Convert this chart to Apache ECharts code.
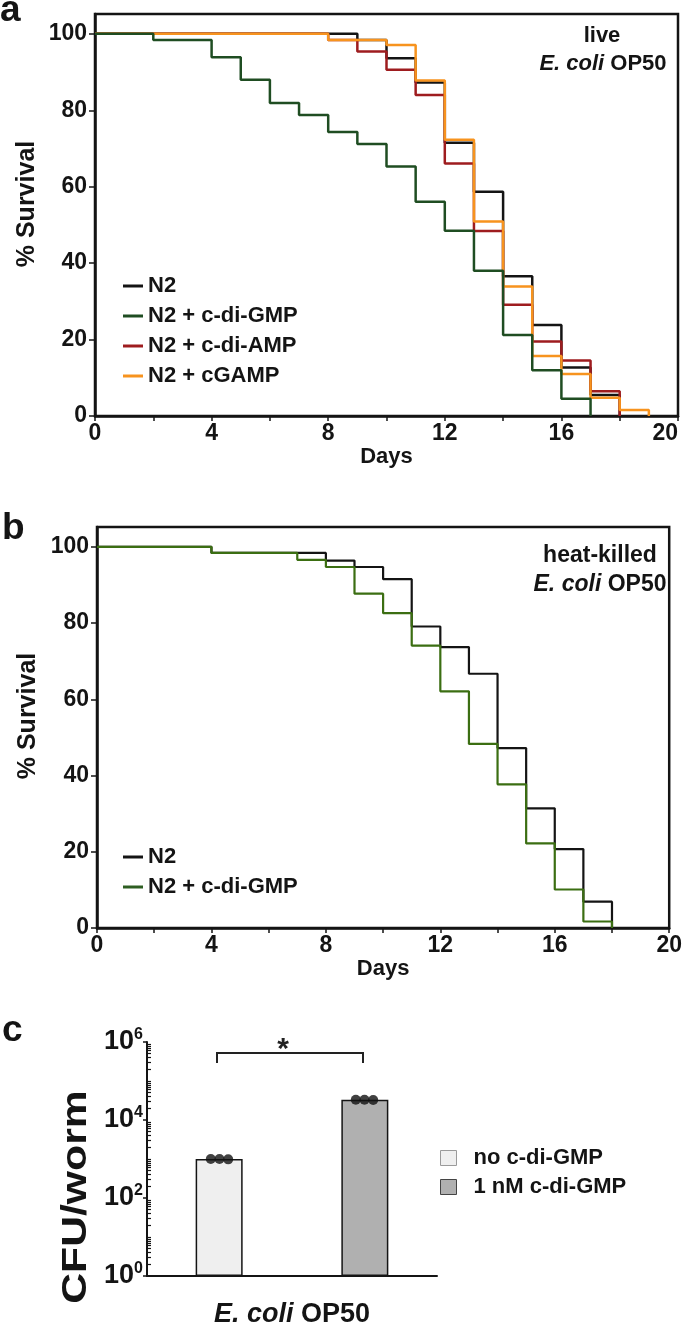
<!DOCTYPE html>
<html><head><meta charset="utf-8">
<script src="https://cdn.jsdelivr.net/npm/echarts@6/dist/echarts.min.js"></script>
<style>html,body{margin:0;padding:0;background:#fff}#c{width:685px;height:1328px}</style>
</head><body><div id="c"></div>
<script>
// ---------- Panel a : live E. coli OP50 (day, % survival) ----------
const aN2      = [[0,100],[9,98.4],[10,93.6],[11,87.3],[12,71.5],[13,58.7],[14,36.6],[15,23.8],[16,12.7],[17,5.5],[18,0]];
const aCdiGMP  = [[0,100],[2,98.4],[4,93.9],[5,88.0],[6,81.9],[7,78.8],[8,74.3],[9,71.2],[10,65.3],[11,56.1],[12,48.5],[13,38.0],[14,21.2],[15,12.0],[16,4.5],[17,0]];
const aCdiAMP  = [[0,100],[8,98.4],[9,95.4],[10,90.6],[11,84.0],[12,66.1],[13,48.4],[14,29.1],[15,19.5],[16,14.5],[17,6.5],[18,0]];
const aCGAMP   = [[0,100],[8,98.4],[10,97.1],[11,87.8],[12,72.3],[13,50.9],[14,33.9],[15,15.7],[16,11.0],[17,4.8],[18,1.6],[19,0]];
// ---------- Panel b : heat-killed E. coli OP50 ----------
const bN2      = [[0,100],[4,98.4],[8,96.4],[9,94.7],[10,91.5],[11,79.1],[12,73.7],[13,66.7],[14,47.2],[15,31.4],[16,20.7],[17,6.9],[18,0]];
const bCdiGMP  = [[0,100],[4,98.4],[7,96.6],[8,94.7],[9,87.7],[10,82.6],[11,74.1],[12,62.1],[13,48.3],[14,37.7],[15,22.2],[16,10.1],[17,1.7],[18,0]];
// ---------- Panel c : CFU per worm ----------
const cCategory   = ['E. coli OP50'];
const cfuNo       = [1000];
const cfu1nM      = [33000];
const dotsNo      = [[0.44,1000],[0.50,1000],[0.56,980]];
const dots1nM     = [[1.44,33000],[1.50,33000],[1.56,32500]];
// ---------- ticks ----------
const dayTicks    = [0,2,4,6,8,10,12,14,16,18,20];
const dayLabels   = [0,4,8,12,16,20];
const survTicks   = [0,20,40,60,80,100];
const cfuMajor    = [1,100,10000,1000000];
const cfuMinor    = [2,3,4,5,6,7,8,9,10,20,30,40,50,60,70,80,90,200,300,400,500,600,700,800,900,1000,2000,3000,4000,5000,6000,7000,8000,9000,20000,30000,40000,50000,60000,70000,80000,90000,100000,200000,300000,400000,500000,600000,700000,800000,900000];

const F = '"Liberation Sans", Arial, Helvetica, sans-serif';
const K = '#141414';
const txt = (s, w) => ({fontSize: s, fontWeight: w || 'bold', color: K, fontFamily: F});

function survX(gi) {
  return {gridIndex: gi, type: 'value', min: 0, max: 20,
    axisLine: {show: true, onZero: false, lineStyle: {color: K, width: 2.5}},
    axisTick: {show: true, customValues: dayTicks, length: 5, lineStyle: {color: K, width: 1.5}},
    axisLabel: Object.assign({customValues: dayLabels, margin: 6, alignMaxLabel: gi === 0 ? 'right' : null}, txt(23)),
    splitLine: {show: false},
    name: 'Days', nameLocation: 'middle', nameGap: 27, nameTextStyle: txt(22)};
}
function survY(gi) {
  return {gridIndex: gi, type: 'value', min: 0, max: 105.2,
    axisLine: {show: true, onZero: false, lineStyle: {color: K, width: 2.5}},
    axisTick: {show: true, customValues: survTicks, length: 6, lineStyle: {color: K, width: 1.5}},
    axisLabel: Object.assign({customValues: survTicks, margin: 8,
      formatter: v => (Math.abs(v % 20) < 1e-6 ? String(v) : '')}, txt(23)),
    splitLine: {show: false}};
}
function line(name, data, color, xi, z, w) {
  return {name, type: 'line', xAxisIndex: xi, yAxisIndex: xi, data, step: 'end',
    showSymbol: false, symbol: 'none', z, clip: false,
    lineStyle: {color, width: w}, itemStyle: {color}, emphasis: {disabled: true}};
}
const GA = '#1f4d22', RA = '#9e1c1f', OA = '#f7931e', GB = '#3b6e12';

const chart = echarts.init(document.getElementById('c'), null, {renderer: 'canvas'});
chart.setOption({
  animation: false,
  backgroundColor: '#fff',
  grid: [
    {left: 95, right: 7, top: 14, bottom: 912, show: true, borderColor: K, borderWidth: 2.5},
    {left: 97, right: 13, top: 527, bottom: 400, show: true, borderColor: K, borderWidth: 2.5},
    {left: 147, right: 248, top: 1042, bottom: 42, show: false}
  ],
  xAxis: [
    survX(0), survX(1),
    {gridIndex: 2, type: 'category', data: cCategory,
      axisLine: {show: true, lineStyle: {color: K, width: 2}}, axisTick: {show: false},
      axisLabel: {margin: 25, fontSize: 27, fontWeight: 'bold', color: K, fontFamily: F,
        formatter: v => '{i|E. coli} OP50',
        rich: {i: {fontSize: 27, fontWeight: 'bold', fontStyle: 'italic', color: K, fontFamily: F}}}},
    {gridIndex: 2, type: 'value', min: 0, max: 2, show: false}
  ],
  yAxis: [
    survY(0), survY(1),
    {gridIndex: 2, type: 'log', logBase: 10, min: 1, max: 1000000, splitNumber: 3, position: 'left',
      axisLine: {show: true, lineStyle: {color: K, width: 2}},
      axisTick: {show: true, customValues: cfuMajor, length: 4, lineStyle: {color: K, width: 1.5}},
      axisLabel: {customValues: cfuMajor, margin: 4, color: K, fontFamily: F, fontSize: 27, fontWeight: 'bold',
        formatter: v => '{b|10}{s|' + Math.round(Math.log10(v)) + '}',
        rich: {b: {fontSize: 27, fontWeight: 'bold', color: K, fontFamily: F, lineHeight: 30},
               s: {fontSize: 16, fontWeight: 'bold', color: K, fontFamily: F, lineHeight: 30, verticalAlign: 'top'}}},
      splitLine: {show: false}, minorTick: {show: false}},
    {gridIndex: 2, type: 'log', logBase: 10, min: 1, max: 1000000, splitNumber: 3, position: 'left', offset: 0,
      axisLine: {show: false}, axisLabel: {show: false}, splitLine: {show: false},
      axisTick: {show: true, inside: true, customValues: cfuMinor, length: 4, lineStyle: {color: K, width: 1.2}}}
  ],
  legend: [
    {orient: 'vertical', left: 118, top: 270, icon: 'rect', itemWidth: 20, itemHeight: 3, itemGap: 8,
      selectedMode: false, textStyle: Object.assign({lineHeight: 22}, txt(22)),
      data: [{name: 'N2', itemStyle: {color: K, borderWidth: 0}},
             {name: 'N2 + c-di-GMP', itemStyle: {color: GA, borderWidth: 0}},
             {name: 'N2 + c-di-AMP', itemStyle: {color: RA, borderWidth: 0}},
             {name: 'N2 + cGAMP', itemStyle: {color: OA, borderWidth: 0}}]},
    {orient: 'vertical', left: 118, top: 841, icon: 'rect', itemWidth: 20, itemHeight: 3, itemGap: 8,
      selectedMode: false, textStyle: Object.assign({lineHeight: 22}, txt(22)),
      data: [{name: 'N2', itemStyle: {color: K, borderWidth: 0}},
             {name: 'N2 + c-di-GMP', itemStyle: {color: '#2e5e22', borderWidth: 0}}]},
    {orient: 'vertical', left: 435, top: 1142, icon: 'rect', itemWidth: 16, itemHeight: 15, itemGap: 7,
      selectedMode: false, textStyle: Object.assign({lineHeight: 22, padding: [0, 0, 0, 12]}, txt(22)),
      data: [{name: 'no c-di-GMP', itemStyle: {color: '#efefef', borderColor: '#9a9a9a', borderWidth: 1}},
             {name: '1 nM c-di-GMP', itemStyle: {color: '#b0b0b0', borderColor: '#444', borderWidth: 1}}]}
  ],
  series: [
    line('N2', aN2, K, 0, 2, 2.5),
    line('N2 + c-di-GMP', aCdiGMP, GA, 0, 6, 2.5),
    line('N2 + c-di-AMP', aCdiAMP, RA, 0, 3, 2.5),
    line('N2 + cGAMP', aCGAMP, OA, 0, 4, 2.5),
    line('N2', bN2, K, 1, 2, 2.2),
    line('N2 + c-di-GMP', bCdiGMP, GB, 1, 4, 2.2),
    {name: 'no c-di-GMP', type: 'bar', xAxisIndex: 2, yAxisIndex: 2, data: cfuNo,
      barWidth: 47, barGap: '210%', itemStyle: {color: '#efefef', borderColor: K, borderWidth: 1.5}},
    {name: '1 nM c-di-GMP', type: 'bar', xAxisIndex: 2, yAxisIndex: 2, data: cfu1nM,
      barWidth: 47, barGap: '210%', itemStyle: {color: '#b0b0b0', borderColor: K, borderWidth: 1.5}},
    {name: 'replicates no c-di-GMP', type: 'scatter', xAxisIndex: 3, yAxisIndex: 2, data: dotsNo,
      symbolSize: 10, itemStyle: {color: '#111'}, z: 5},
    {name: 'replicates 1 nM c-di-GMP', type: 'scatter', xAxisIndex: 3, yAxisIndex: 2, data: dots1nM,
      symbolSize: 10, itemStyle: {color: '#111'}, z: 5}
  ],
  graphic: [
    {type: 'text', x: 0, y: 11, style: {text: 'a', font: 'bold 37px ' + F, fill: K, textVerticalAlign: 'middle'}},
    {type: 'text', x: 2, y: 529, style: {text: 'b', font: 'bold 37px ' + F, fill: K, textVerticalAlign: 'middle'}},
    {type: 'text', x: 2, y: 1031, style: {text: 'c', font: 'bold 37px ' + F, fill: K, textVerticalAlign: 'middle'}},
    {type: 'text', x: 602, y: 36, style: {text: 'live', font: 'bold 22px ' + F, fill: K, textAlign: 'center', textVerticalAlign: 'middle'}},
    {type: 'text', x: 603, y: 64, style: {text: '{i|E. coli} OP50', font: 'bold 22px ' + F, fill: K, textAlign: 'center', textVerticalAlign: 'middle',
      rich: {i: {font: 'italic bold 22px ' + F, fill: K}}}},
    {type: 'text', x: 600, y: 556, style: {text: 'heat-killed', font: 'bold 23px ' + F, fill: K, textAlign: 'center', textVerticalAlign: 'middle'}},
    {type: 'text', x: 600, y: 585, style: {text: '{i|E. coli} OP50', font: 'bold 23px ' + F, fill: K, textAlign: 'center', textVerticalAlign: 'middle',
      rich: {i: {font: 'italic bold 23px ' + F, fill: K}}}},
    {type: 'text', x: 27, y: 204, rotation: Math.PI / 2, style: {text: '% Survival', font: 'bold 25px ' + F, fill: K, textAlign: 'center', textVerticalAlign: 'middle'}},
    {type: 'text', x: 28, y: 716, rotation: Math.PI / 2, style: {text: '% Survival', font: 'bold 25px ' + F, fill: K, textAlign: 'center', textVerticalAlign: 'middle'}},
    {type: 'text', x: 76, y: 1197, rotation: Math.PI / 2, scaleX: 1.22, style: {text: 'CFU/worm', font: 'bold 35px ' + F, fill: K, textAlign: 'center', textVerticalAlign: 'middle'}},
    {type: 'polyline', shape: {points: [[217, 1063], [217, 1053], [363, 1053], [363, 1063]]}, style: {stroke: '#222', lineWidth: 2, fill: null}},
    {type: 'text', x: 283, y: 1050, style: {text: '*', font: 'bold 30px ' + F, fill: '#222', textAlign: 'center', textVerticalAlign: 'middle'}}
  ]
});
</script></body></html>
